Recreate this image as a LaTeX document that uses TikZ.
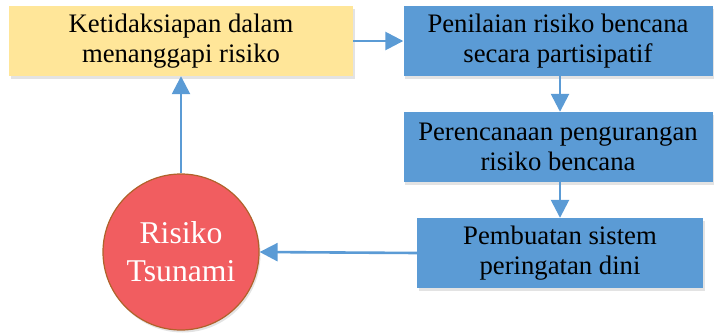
\documentclass[tikz,border=0pt]{standalone}
\usepackage{fontspec}
\setmainfont{Liberation Serif}
\usetikzlibrary{arrows.meta,shadows}
\definecolor{boxyellow}{HTML}{FFE699}
\definecolor{boxblue}{HTML}{5B9BD5}
\definecolor{circred}{HTML}{F15D60}
\definecolor{circedge}{HTML}{B0622A}
\tikzset{
  shade/.style={drop shadow={opacity=0.22,shadow xshift=1.5pt,shadow yshift=-2.5pt}},
  boxnode/.style={rectangle,inner sep=0pt,align=center,text=black,
    font=\fontsize{26.7}{30}\selectfont,shade},
  ybox/.style={boxnode,fill=boxyellow},
  bbox/.style={boxnode,fill=boxblue},
  circnode/.style={circle,inner sep=0pt,minimum size=156pt,fill=circred,
    draw=circedge,line width=1.2pt,text=white,align=center,
    font=\fontsize{31.7}{38}\selectfont,shade},
  conn/.style={draw=boxblue,line width=2.6pt,
    -{Triangle[length=18pt,width=18pt]}}
}
\begin{document}
\begin{tikzpicture}[x=1pt,y=-1pt]
\useasboundingbox (0,0) rectangle (714,332);
\node[ybox,minimum width=344pt,minimum height=70pt] (y) at (181,41)
  {Ketidaksiapan dalam\\menanggapi risiko};
\node[bbox,minimum width=309pt,minimum height=70pt] (b1) at (558,41)
  {Penilaian risiko bencana\\secara partisipatif};
\node[bbox,minimum width=309pt,minimum height=70pt] (b2) at (558,147)
  {Perencanaan pengurangan\\risiko bencana};
\node[bbox,minimum width=286pt,minimum height=70pt] (b3) at (560,253)
  {Pembuatan sistem\\peringatan dini};
\node[circnode] (c) at (181,252) {Risiko\\Tsunami};
\draw[conn] (y.east) -- (b1.west);
\draw[conn] (b1.south -| 560,0) -- (b2.north -| 560,0);
\draw[conn] (b2.south -| 560,0) -- (b3.north);
\draw[conn] (b3.west) -- (c.east);
\draw[conn] (c.north) -- (y.south);
\end{tikzpicture}
\end{document}
